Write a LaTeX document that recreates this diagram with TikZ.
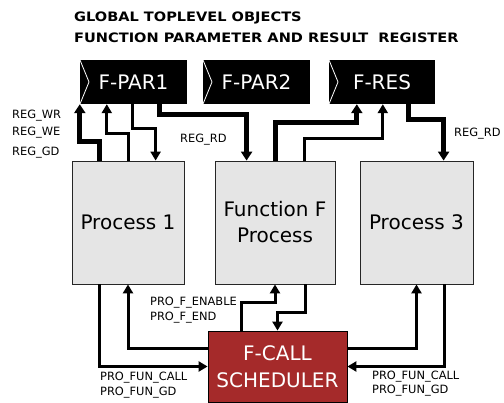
\documentclass[tikz,border=0pt]{standalone}
\usepackage{fontspec}
\setmainfont{DejaVu Sans}
\newfontfamily\titlefont[FakeStretch=1.12]{DejaVu Sans}
\usetikzlibrary{arrows.meta}
\definecolor{schedred}{HTML}{A52A2A}

\begin{document}
\begin{tikzpicture}[x=1pt,y=-1pt,
  reg/.style={fill=black,text=white,minimum width=107pt,minimum height=44pt,inner sep=0pt,
    font=\fontsize{20}{24}\selectfont,
    path picture={\draw[white,line width=0.8pt] (path picture bounding box.north west)
      -- ([xshift=9pt]path picture bounding box.west) -- (path picture bounding box.south west);}},
  proc/.style={draw=black!85,fill=black!10,line width=0.8pt,minimum height=123pt,
    align=center,inner sep=0pt,font=\fontsize{20}{26}\selectfont},
  sig/.style={anchor=west,inner sep=0pt,font=\fontsize{11.4}{13}\selectfont},
  thickwire/.style={line width=5pt,-{Triangle[width=11pt,length=9pt]}},
  thinwire/.style={line width=3pt,-{Triangle[width=10pt,length=9pt]}}]
  \useasboundingbox (0,0) rectangle (504,403);

  \node[anchor=west,inner sep=0pt,font=\titlefont\bfseries\fontsize{13}{15}\selectfont]
    (title1) at (74,18) {GLOBAL TOPLEVEL OBJECTS};
  \node[anchor=west,inner sep=0pt,font=\titlefont\bfseries\fontsize{13}{15}\selectfont]
    (title2) at (74,38) {FUNCTION PARAMETER AND RESULT\ \ REGISTER};

  \node[reg] (par1) at (133.5,82) {F-PAR1};
  \node[reg] (par2) at (256.5,82) {F-PAR2};
  \node[reg,minimum width=106pt] (res) at (382,82) {F-RES};

  \node[proc,minimum width=112pt] (p1) at (128,222.5) {Process 1};
  \node[proc,minimum width=120pt] (f) at (275,222.5) {Function F\\Process};
  \node[proc,minimum width=113pt] (p3) at (416.5,222.5) {Process 3};

  \node[draw=black,line width=0.8pt,fill=schedred,text=white,minimum width=139pt,minimum height=71pt,
    align=center,inner sep=0pt,font=\fontsize{20}{27}\selectfont] (sched) at (277.5,366.5) {F-CALL\\SCHEDULER};

  \draw[thickwire] ([xshift=28pt]p1.north west) -- ++(0,-19) -| (par1.south west);
  \draw[thinwire] (p1.north) -- ++(0,-27) -| ([xshift=27pt]par1.south west);
  \draw[thinwire] ([xshift=53pt]par1.south west) -- ++(0,24) -| ([xshift=84pt]p1.north west);
  \draw[thickwire] ([xshift=80pt]par1.south west) -- ++(0,10) -| ([xshift=32pt]f.north west);
  \draw[thickwire] ([xshift=61pt]f.north west) -- ++(0,-38) -| ([xshift=28pt]res.south west);
  \draw[thinwire] ([xshift=90pt]f.north west) -- ++(0,-22) -| ([xshift=54pt]res.south west);
  \draw[thickwire] ([xshift=80pt]res.south west) -- ++(0,15) -| ([xshift=84pt]p3.north west);

  \draw[thinwire] ([xshift=28pt]p1.south west) |- (sched.west);
  \draw[thinwire] ([yshift=17.5pt]sched.west) -| (p1.south);
  \draw[thinwire] ([xshift=34pt]sched.north west) -- ++(0,-28) -| (f.south);
  \draw[thinwire] ([xshift=91pt]f.south west) -- ++(0,28) -| (sched.north);
  \draw[thinwire] ([yshift=17.5pt]sched.east) -| (p3.south);
  \draw[thinwire] ([xshift=85pt]p3.south west) |- (sched.east);

  \node[sig] (wr) at (12,115.5) {REG\_WR};
  \node[sig] (we) at (12,133) {REG\_WE};
  \node[sig] (gd) at (12,153) {REG\_GD};
  \node[sig] (rd1) at (180,140) {REG\_RD};
  \node[sig] (rd2) at (454,134) {REG\_RD};
  \node[sig] (fen) at (150,303) {PRO\_F\_ENABLE};
  \node[sig] (fend) at (150,318) {PRO\_F\_END};
  \node[sig] (call1) at (100,378) {PRO\_FUN\_CALL};
  \node[sig] (gd1) at (100,393) {PRO\_FUN\_GD};
  \node[sig] (call3) at (372,377) {PRO\_FUN\_CALL};
  \node[sig] (gd3) at (372,391) {PRO\_FUN\_GD};
\end{tikzpicture}
\end{document}
